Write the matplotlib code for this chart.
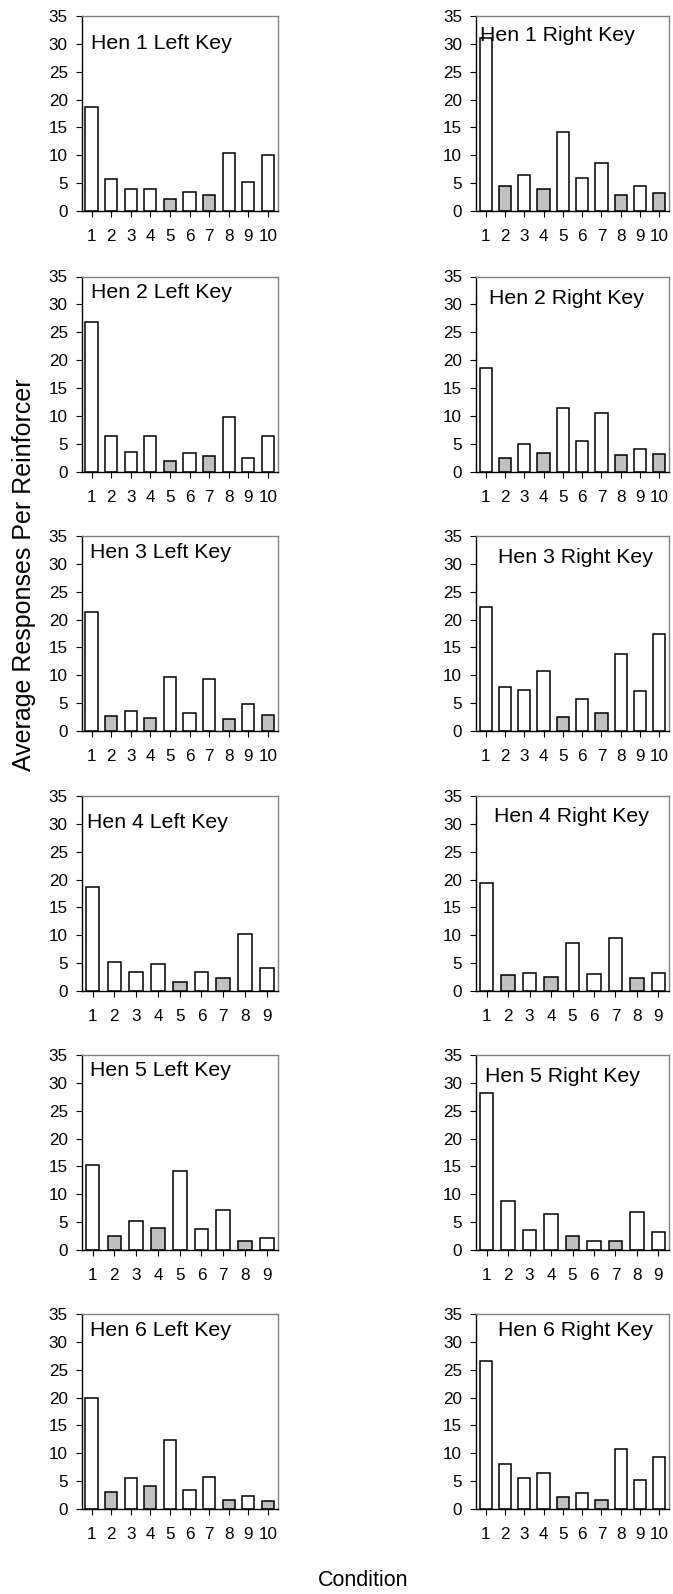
import matplotlib
matplotlib.use("Agg")
import matplotlib.pyplot as plt
import numpy as np

plt.rcParams['font.family'] = ['Liberation Sans', 'DejaVu Sans']

# Average responses per reinforcer, by condition, for each hen and key
hen1_left = [18.6, 5.8, 4.0, 4.0, 2.1, 3.5, 2.8, 10.4, 5.2, 10.0]
hen1_right = [31.0, 4.5, 6.4, 3.9, 14.2, 5.9, 8.6, 2.9, 4.4, 3.2]
hen2_left = [26.9, 6.4, 3.5, 6.3, 1.8, 3.4, 2.8, 9.8, 2.5, 6.3]
hen2_right = [18.6, 2.5, 4.9, 3.4, 11.4, 5.4, 10.5, 2.9, 4.1, 3.2]
hen3_left = [21.3, 2.7, 3.5, 2.4, 9.7, 3.3, 9.3, 2.2, 4.9, 2.9]
hen3_right = [22.3, 7.9, 7.4, 10.8, 2.6, 5.8, 3.2, 13.9, 7.2, 17.5]
hen4_left = [18.7, 5.2, 3.5, 4.9, 1.7, 3.5, 2.3, 10.2, 4.1]
hen4_right = [19.4, 2.8, 3.2, 2.5, 8.6, 3.1, 9.6, 2.3, 3.2]
hen5_left = [15.3, 2.5, 5.2, 4.0, 14.2, 3.8, 7.1, 1.6, 2.2]
hen5_right = [28.2, 8.8, 3.6, 6.5, 2.6, 1.7, 1.6, 6.9, 3.3]
hen6_left = [20.0, 3.1, 5.5, 4.1, 12.3, 3.5, 5.8, 1.6, 2.3, 1.4]
hen6_right = [26.5, 8.0, 5.5, 6.5, 2.2, 2.9, 1.7, 10.7, 5.2, 9.3]

# Conditions drawn with grey fill (1-based)
hen1_left_grey = [5, 7]
hen1_right_grey = [2, 4, 8, 10]
hen2_left_grey = [5, 7]
hen2_right_grey = [2, 4, 8, 10]
hen3_left_grey = [2, 4, 8, 10]
hen3_right_grey = [5, 7]
hen4_left_grey = [5, 7]
hen4_right_grey = [2, 4, 8]
hen5_left_grey = [2, 4, 8]
hen5_right_grey = [5, 7]
hen6_left_grey = [2, 4, 8, 10]
hen6_right_grey = [5, 7]

titles = [
    "Hen 1 Left Key", "Hen 1 Right Key",
    "Hen 2 Left Key", "Hen 2 Right Key",
    "Hen 3 Left Key", "Hen 3 Right Key",
    "Hen 4 Left Key", "Hen 4 Right Key",
    "Hen 5 Left Key", "Hen 5 Right Key",
    "Hen 6 Left Key", "Hen 6 Right Key",
]
series = [hen1_left, hen1_right, hen2_left, hen2_right, hen3_left, hen3_right,
          hen4_left, hen4_right, hen5_left, hen5_right, hen6_left, hen6_right]
greys = [hen1_left_grey, hen1_right_grey, hen2_left_grey, hen2_right_grey,
         hen3_left_grey, hen3_right_grey, hen4_left_grey, hen4_right_grey,
         hen5_left_grey, hen5_right_grey, hen6_left_grey, hen6_right_grey]
y_ticks = [0, 5, 10, 15, 20, 25, 30, 35]

# Title placement inside each panel (axes fraction: left x, baseline y)
title_pos = [
    (0.047, 0.831), (0.020, 0.873),
    (0.048, 0.892), (0.069, 0.858),
    (0.043, 0.889), (0.112, 0.863),
    (0.029, 0.836), (0.095, 0.868),
    (0.043, 0.892), (0.047, 0.860),
    (0.043, 0.886), (0.112, 0.886),
]

W, H = 673, 1594
fig = plt.figure(figsize=(W / 100, H / 100), dpi=100)

row_tops = [16, 276.5, 536, 796, 1055, 1314]
col_left = [81.7, 476]
col_width = [196, 193]
ax_h = 195

tick_fs = 12.3
title_fs = 15.3

for i, (vals, grey, title) in enumerate(zip(series, greys, titles)):
    r, c = divmod(i, 2)
    left = col_left[c] / W
    bottom = 1 - (row_tops[r] + ax_h) / H
    ax = fig.add_axes([left, bottom, col_width[c] / W, ax_h / H])
    n = len(vals)
    x = np.arange(1, n + 1)
    colors = ['#c0c0c0' if k in grey else 'white' for k in x]
    ax.bar(x, vals, width=0.63, color=colors, edgecolor='black', linewidth=1.1, zorder=2)
    ax.set_xlim(0.5, n + 0.5)
    ax.set_ylim(0, 35)
    ax.set_yticks(y_ticks)
    ax.set_xticks(x)
    ax.set_xticklabels([str(k) for k in x])
    ax.tick_params(axis='both', labelsize=tick_fs, direction='out', length=4, width=0.8, colors='black')
    ax.tick_params(axis='y', pad=6)
    ax.tick_params(axis='x', pad=9)
    for side in ('top', 'right'):
        ax.spines[side].set_color('#808080')
        ax.spines[side].set_linewidth(1.0)
    for side in ('left', 'bottom'):
        ax.spines[side].set_color('black')
        ax.spines[side].set_linewidth(1.0)
    tx, ty = title_pos[i]
    ax.text(tx, ty, title, transform=ax.transAxes, fontsize=title_fs,
            ha='left', va='baseline', zorder=3)

fig.text(24 / W, 1 - 575 / H, "Average Responses Per Reinforcer", rotation=90,
         ha='center', va='center', fontsize=18)
fig.text(363 / W, 1 - 1581 / H, "Condition", ha='center', va='center', fontsize=15.5)

fig.savefig("out.png", dpi=100)
